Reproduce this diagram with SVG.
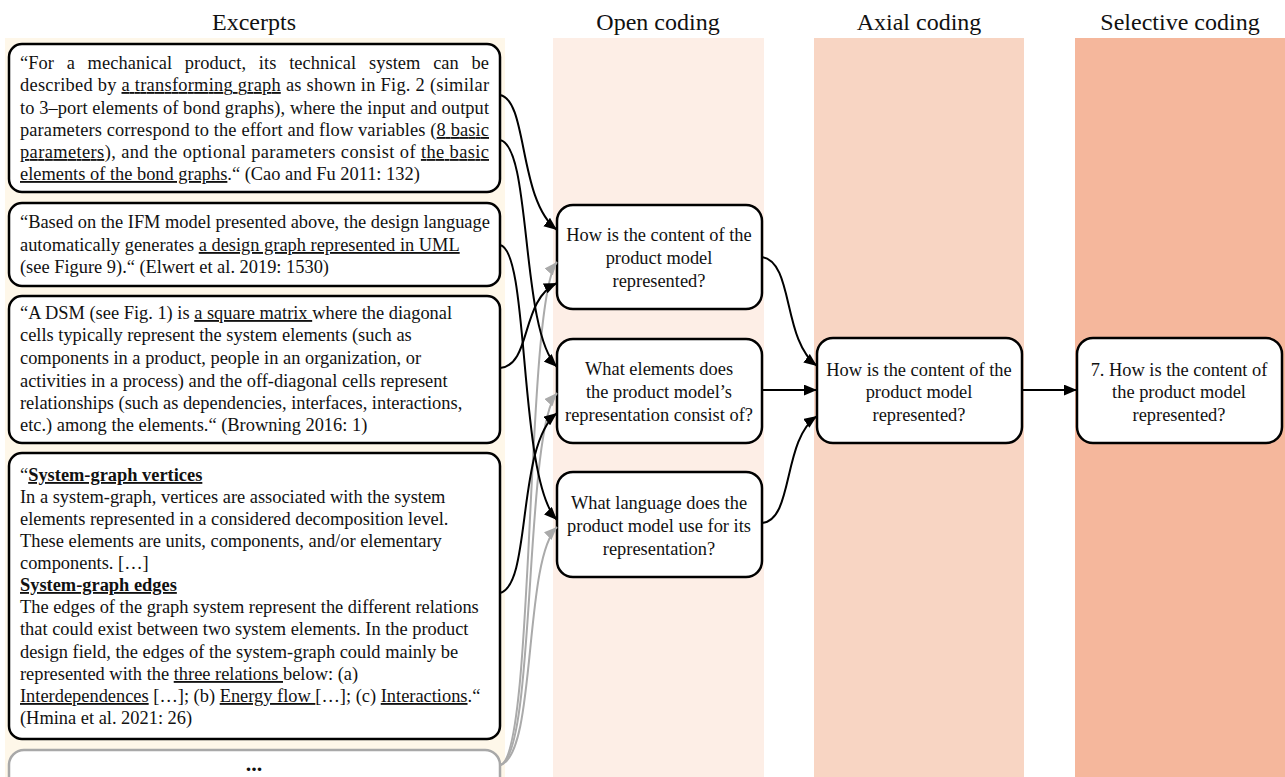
<svg xmlns="http://www.w3.org/2000/svg" width="1285" height="777" viewBox="0 0 1285 777">
<defs>
<style>
.hdr{font-family:"Liberation Serif","Times New Roman",serif;font-size:24px;fill:#111;text-anchor:middle}
.t{font-family:"Liberation Serif","Times New Roman",serif;font-size:18.4px;fill:#111}
.c{text-anchor:middle}
.u{text-decoration:underline}
.b{font-weight:bold}
.box{fill:#fff;stroke:#000;stroke-width:2.5}
.gbox{fill:#fff;stroke:#a8a8a8;stroke-width:2.5}
.ln{fill:none;stroke:#000;stroke-width:2}
.gl{fill:none;stroke:#aaa;stroke-width:2}
</style>
<marker id="ab" viewBox="0 0 12 10" refX="12" refY="5" markerWidth="13" markerHeight="11" markerUnits="userSpaceOnUse" orient="auto"><path d="M0,0 L12,5 L0,10 z" fill="#000"/></marker>
<marker id="ag" viewBox="0 0 12 10" refX="12" refY="5" markerWidth="13" markerHeight="11" markerUnits="userSpaceOnUse" orient="auto"><path d="M0,0 L12,5 L0,10 z" fill="#aaa"/></marker>
</defs>
<rect width="1285" height="777" fill="#fff"/>
<g id="columns">
<rect x="5" y="38" width="500" height="739" fill="#FEF7E9"/>
<rect x="553" y="38" width="211" height="739" fill="#FDEEE6"/>
<rect x="814" y="38" width="210" height="739" fill="#F8D5C3"/>
<rect x="1075" y="38" width="210" height="739" fill="#F5B79C"/>
<text class="hdr" x="254" y="30">Excerpts</text>
<text class="hdr" x="658" y="30">Open coding</text>
<text class="hdr" x="919" y="30">Axial coding</text>
<text class="hdr" x="1180" y="30">Selective coding</text>
</g>
<g id="excerpt1">
<rect class="box" x="9" y="44" width="491" height="148" rx="13"/>
<text class="t" x="20" y="69" word-spacing="8" textLength="469" lengthAdjust="spacing">“For a mechanical product, its technical system can be</text>
<text class="t" x="20" y="91" textLength="469" lengthAdjust="spacing">described by <tspan class="u">a transforming graph</tspan> as shown in Fig. 2 (similar</text>
<text class="t" x="20" y="114" textLength="469" lengthAdjust="spacing">to 3–port elements of bond graphs), where the input and output</text>
<text class="t" x="20" y="136" textLength="469" lengthAdjust="spacing">parameters correspond to the effort and flow variables (<tspan class="u">8 basic</tspan></text>
<text class="t" x="20" y="158" textLength="469" lengthAdjust="spacing"><tspan class="u">parameters</tspan>), and the optional parameters consist of <tspan class="u">the basic</tspan></text>
<text class="t" x="20" y="180"><tspan class="u">elements of the bond graphs</tspan>.“ (Cao and Fu 2011: 132)</text>
</g>
<g id="excerpt2">
<rect class="box" x="9" y="203" width="491" height="83" rx="13"/>
<text class="t" x="20" y="228">“Based on the IFM model presented above, the design language</text>
<text class="t" x="20" y="251">automatically generates <tspan class="u">a design graph represented in UML</tspan></text>
<text class="t" x="20" y="273">(see Figure 9).“ (Elwert et al. 2019: 1530)</text>
</g>
<g id="excerpt3">
<rect class="box" x="9" y="296" width="491" height="147" rx="13"/>
<text class="t" x="20" y="319">“A DSM (see Fig. 1) is <tspan class="u">a square matrix </tspan>where the diagonal</text>
<text class="t" x="20" y="341">cells typically represent the system elements (such as</text>
<text class="t" x="20" y="364">components in a product, people in an organization, or</text>
<text class="t" x="20" y="387">activities in a process) and the off-diagonal cells represent</text>
<text class="t" x="20" y="409">relationships (such as dependencies, interfaces, interactions,</text>
<text class="t" x="20" y="431">etc.) among the elements.“ (Browning 2016: 1)</text>
</g>
<g id="excerpt4">
<rect class="box" x="9" y="453" width="491" height="286" rx="13"/>
<text class="t" x="20" y="481">“<tspan class="b u">System-graph vertices</tspan></text>
<text class="t" x="20" y="503">In a system-graph, vertices are associated with the system</text>
<text class="t" x="20" y="525">elements represented in a considered decomposition level.</text>
<text class="t" x="20" y="547">These elements are units, components, and/or elementary</text>
<text class="t" x="20" y="569">components. […]</text>
<text class="t b u" x="20" y="591">System-graph edges</text>
<text class="t" x="20" y="613">The edges of the graph system represent the different relations</text>
<text class="t" x="20" y="635">that could exist between two system elements. In the product</text>
<text class="t" x="20" y="658">design field, the edges of the system-graph could mainly be</text>
<text class="t" x="20" y="680">represented with the <tspan class="u">three relations </tspan>below: (a)</text>
<text class="t" x="20" y="702"><tspan class="u">Interdependences</tspan> […]; (b) <tspan class="u">Energy flow </tspan>[…]; (c) <tspan class="u">Interactions</tspan>.“</text>
<text class="t" x="20" y="724">(Hmina et al. 2021: 26)</text>
</g>
<g id="excerpt5">
<rect class="gbox" x="9" y="750" width="491" height="60" rx="15"/>
<text class="t c b" x="254" y="771" style="font-size:22px">...</text>
</g>
<g id="open1">
<rect class="box" x="557" y="205" width="205" height="104" rx="16"/>
<text class="t c" x="659" y="241">How is the content of the</text>
<text class="t c" x="659" y="264">product model</text>
<text class="t c" x="659" y="287">represented?</text>
</g>
<g id="open2">
<rect class="box" x="557" y="339" width="205" height="104" rx="16"/>
<text class="t c" x="659" y="375">What elements does</text>
<text class="t c" x="659" y="398">the product model’s</text>
<text class="t c" x="659" y="421">representation consist of?</text>
</g>
<g id="open3">
<rect class="box" x="557" y="472" width="205" height="105" rx="16"/>
<text class="t c" x="659" y="509">What language does the</text>
<text class="t c" x="659" y="532">product model use for its</text>
<text class="t c" x="659" y="555">representation?</text>
</g>
<g id="axial">
<rect class="box" x="817" y="338" width="205" height="105" rx="16"/>
<text class="t c" x="919" y="376">How is the content of the</text>
<text class="t c" x="919" y="398">product model</text>
<text class="t c" x="919" y="421">represented?</text>
</g>
<g id="selective">
<rect class="box" x="1077" y="338" width="205" height="105" rx="16"/>
<text class="t c" x="1179" y="376">7. How is the content of</text>
<text class="t c" x="1179" y="398">the product model</text>
<text class="t c" x="1179" y="421">represented?</text>
</g>
<g id="connectors">
<path class="gl" d="M500,765 C535,760 525,300 557,262" marker-end="url(#ag)"/>
<path class="gl" d="M500,765 C536,758 524,430 557,393" marker-end="url(#ag)"/>
<path class="gl" d="M500,765 C537,756 523,560 557,527" marker-end="url(#ag)"/>
<path class="ln" d="M500,95 C528,100 518,200 557,230" marker-end="url(#ab)"/>
<path class="ln" d="M500,140 C532,146 520,330 557,367" marker-end="url(#ab)"/>
<path class="ln" d="M500,245 C530,250 518,480 557,520" marker-end="url(#ab)"/>
<path class="ln" d="M500,368 C532,365 520,300 557,283" marker-end="url(#ab)"/>
<path class="ln" d="M500,593 C532,585 516,445 557,413" marker-end="url(#ab)"/>
<path class="ln" d="M762,257 C794,262 782,340 817,366" marker-end="url(#ab)"/>
<path class="ln" d="M762,390 L817,390" marker-end="url(#ab)"/>
<path class="ln" d="M762,523 C794,520 782,440 817,416" marker-end="url(#ab)"/>
<path class="ln" d="M1022,390 L1077,390" marker-end="url(#ab)"/>
</g>
</svg>
